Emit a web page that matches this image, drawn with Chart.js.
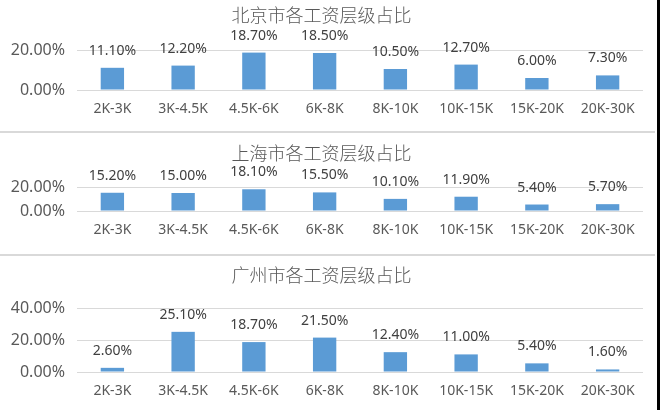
<!DOCTYPE html>
<html>
<head>
<meta charset="utf-8">
<script src="https://cdn.jsdelivr.net/npm/chart.js@4"></script>
<style>
  html, body { margin: 0; padding: 0; background: #000; }
  #page { position: relative; width: 657px; height: 410px; background: #fff; overflow: hidden; }
  .panel { position: absolute; left: 0; width: 655px; }
  .sep { position: absolute; left: 0; width: 655px; height: 2px; background: #d9d9d9; }
</style>
</head>
<body>
<div id="page">
  <div class="panel" style="top:0px;height:131px"><canvas id="bj"></canvas></div>
  <div class="sep" style="top:131px"></div>
  <div class="panel" style="top:133px;height:120px"><canvas id="sh"></canvas></div>
  <div class="sep" style="top:254px"></div>
  <div class="panel" style="top:257px;height:153px"><canvas id="gz"></canvas></div>
</div>
<script>
// salary ranges (x axis)
const salaryRanges = ['2K-3K', '3K-4.5K', '4.5K-6K', '6K-8K', '8K-10K', '10K-15K', '15K-20K', '20K-30K'];

// share of jobs per range, in percent
const beijingShare   = [11.1, 12.2, 18.7, 18.5, 10.5, 12.7, 6.0, 7.3];
const shanghaiShare  = [15.2, 15.0, 18.1, 15.5, 10.1, 11.9, 5.4, 5.7];
const guangzhouShare = [2.6, 25.1, 18.7, 21.5, 12.4, 11.0, 5.4, 1.6];

const titles = ['北京市各工资层级占比', '上海市各工资层级占比', '广州市各工资层级占比'];
const yMax = [20, 20, 40];

const textGray = '#595959';
const barBlue = '#5b9bd5';

// writes "xx.xx%" above each bar
const barLabels = {
    id: 'barLabels',
    afterDatasetsDraw(chart) {
        const ctx = chart.ctx;
        const meta = chart.getDatasetMeta(0);
        ctx.save();
        ctx.font = '14px "Noto Sans", "Liberation Sans", sans-serif';
        ctx.fillStyle = '#404040';
        ctx.textAlign = 'center';
        ctx.textBaseline = 'middle';
        meta.data.forEach((bar, i) => {
            const v = chart.data.datasets[0].data[i];
            ctx.fillText(v.toFixed(2) + '%', bar.x, bar.y - 17);
        });
        ctx.restore();
    }
};

function makeChart(id, title, values, max, pad) {
    return new Chart(document.getElementById(id), {
        type: 'bar',
        data: {
            labels: salaryRanges,
            datasets: [{
                data: values,
                backgroundColor: barBlue,
                barPercentage: 0.33,
                categoryPercentage: 1.0
            }]
        },
        options: {
            responsive: true,
            maintainAspectRatio: false,
            animation: false,
            layout: { padding: { left: 0, right: 12, top: 0, bottom: pad.bottom } },
            plugins: {
                legend: { display: false },
                tooltip: { enabled: false },
                title: {
                    display: true,
                    text: title,
                    color: textGray,
                    font: { family: '"Noto Sans CJK SC", sans-serif', size: 18, weight: '300' },
                    padding: { top: pad.titleTop, bottom: pad.titleBottom }
                }
            },
            scales: {
                x: {
                    afterFit(axis) { axis.height = 28; },
                    grid: { display: false, drawTicks: false },
                    border: { display: false },
                    ticks: {
                        color: textGray,
                        padding: 11,
                        maxRotation: 0,
                        autoSkip: false,
                        font: { family: '"Noto Sans", "Liberation Sans", sans-serif', size: 14 }
                    }
                },
                y: {
                    min: 0,
                    max: max,
                    afterFit(axis) { axis.width = 77; },
                    grid: { color: '#d9d9d9', drawTicks: false },
                    border: { display: false },
                    ticks: {
                        stepSize: 20,
                        autoSkip: false,
                        color: textGray,
                        padding: 12,
                        font: { family: '"Noto Sans", "Liberation Sans", sans-serif', size: 16 },
                        callback: v => v.toFixed(2) + '%'
                    }
                }
            }
        },
        plugins: [barLabels]
    });
}

makeChart('bj', titles[0], beijingShare, yMax[0], { titleTop: 4, titleBottom: 24.4, bottom: 13 });
makeChart('sh', titles[1], shanghaiShare, yMax[1], { titleTop: 9, titleBottom: 23.4, bottom: 14 });
makeChart('gz', titles[2], guangzhouShare, yMax[2], { titleTop: 7, titleBottom: 22.4, bottom: 10 });
</script>
</body>
</html>
